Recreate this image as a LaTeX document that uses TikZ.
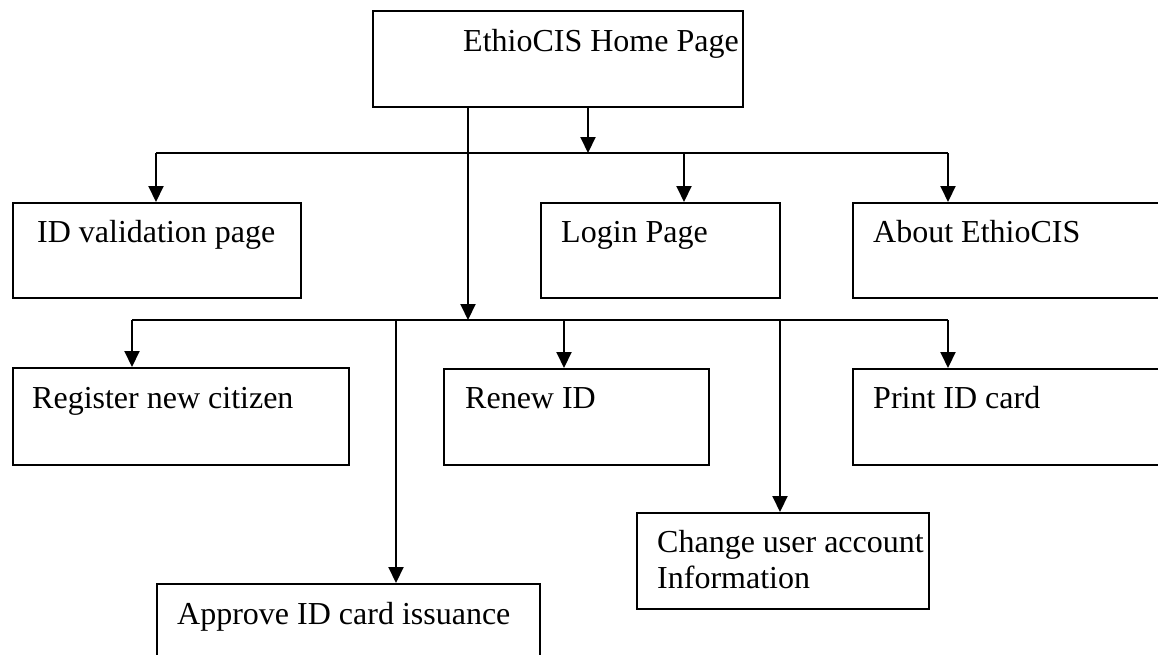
\documentclass[tikz,border=0pt]{standalone}
\usepackage{fontspec}
\setmainfont{Liberation Serif}
\usetikzlibrary{arrows.meta}
\begin{document}
\begin{tikzpicture}[x=1pt,y=-1pt,
  box/.style={draw=black, line width=2pt, anchor=north west, inner sep=0pt, fill=none},
  txt/.style={anchor=base west, inner sep=0pt, font=\fontsize{32}{36}\selectfont},
  link/.style={line width=2pt},
  arr/.style={line width=2pt, -{Triangle[length=16pt,width=15pt]}}]
\useasboundingbox (0,0) rectangle (1158,654);
\clip (0,0) rectangle (1158,654);
% boxes
\node[box, minimum width=370pt, minimum height=96pt] (home) at (372,10) {};
\node[txt] (homet) at (463,51) {EthioCIS Home Page};
\node[box, minimum width=288pt, minimum height=95pt] (idv) at (12,202) {};
\node[txt] (idvt) at (37,242) {ID validation page};
\node[box, minimum width=239pt, minimum height=95pt] (login) at (540,202) {};
\node[txt] (logint) at (561,242) {Login Page};
\node[box, minimum width=330pt, minimum height=95pt] (about) at (852,202) {};
\node[txt] (aboutt) at (873,242) {About EthioCIS};
\node[box, minimum width=336pt, minimum height=97pt] (reg) at (12,367) {};
\node[txt] (regt) at (32,408) {Register new citizen};
\node[box, minimum width=265pt, minimum height=96pt] (renew) at (443,368) {};
\node[txt] (renewt) at (465,408) {Renew ID};
\node[box, minimum width=330pt, minimum height=96pt] (print) at (852,368) {};
\node[txt] (printt) at (873,408) {Print ID card};
\node[box, minimum width=292pt, minimum height=96pt] (change) at (636,512) {};
\node[txt] (changet) at (657,552) {Change user account};
\node[txt] (changet2) at (657,588) {Information};
\node[box, minimum width=383pt, minimum height=120pt] (approve) at (156,583) {};
\node[txt] (approvet) at (177,624) {Approve ID card issuance};
% bus 1
\coordinate (b1) at (588,153);
\coordinate (b1l) at (156,153);
\coordinate (b1m) at (684,153);
\coordinate (b1r) at (948,153);
\draw[arr] (home.south -| b1) -- (b1);
\draw[link] (b1l) -- (b1r);
\draw[arr] (b1l) -- (b1l |- idv.north);
\draw[arr] (b1m) -- (b1m |- login.north);
\draw[arr] (b1r) -- (b1r |- about.north);
% bus 2
\coordinate (b2) at (468,320);
\coordinate (b2a) at (132,320);
\coordinate (b2b) at (396,320);
\coordinate (b2c) at (564,320);
\coordinate (b2d) at (780,320);
\coordinate (b2e) at (948,320);
\draw[arr] (home.south -| b2) -- (b2);
\draw[link] (b2a) -- (b2e);
\draw[arr] (b2a) -- (b2a |- reg.north);
\draw[arr] (b2b) -- (b2b |- approve.north);
\draw[arr] (b2c) -- (b2c |- renew.north);
\draw[arr] (b2d) -- (b2d |- change.north);
\draw[arr] (b2e) -- (b2e |- print.north);
\end{tikzpicture}
\end{document}
